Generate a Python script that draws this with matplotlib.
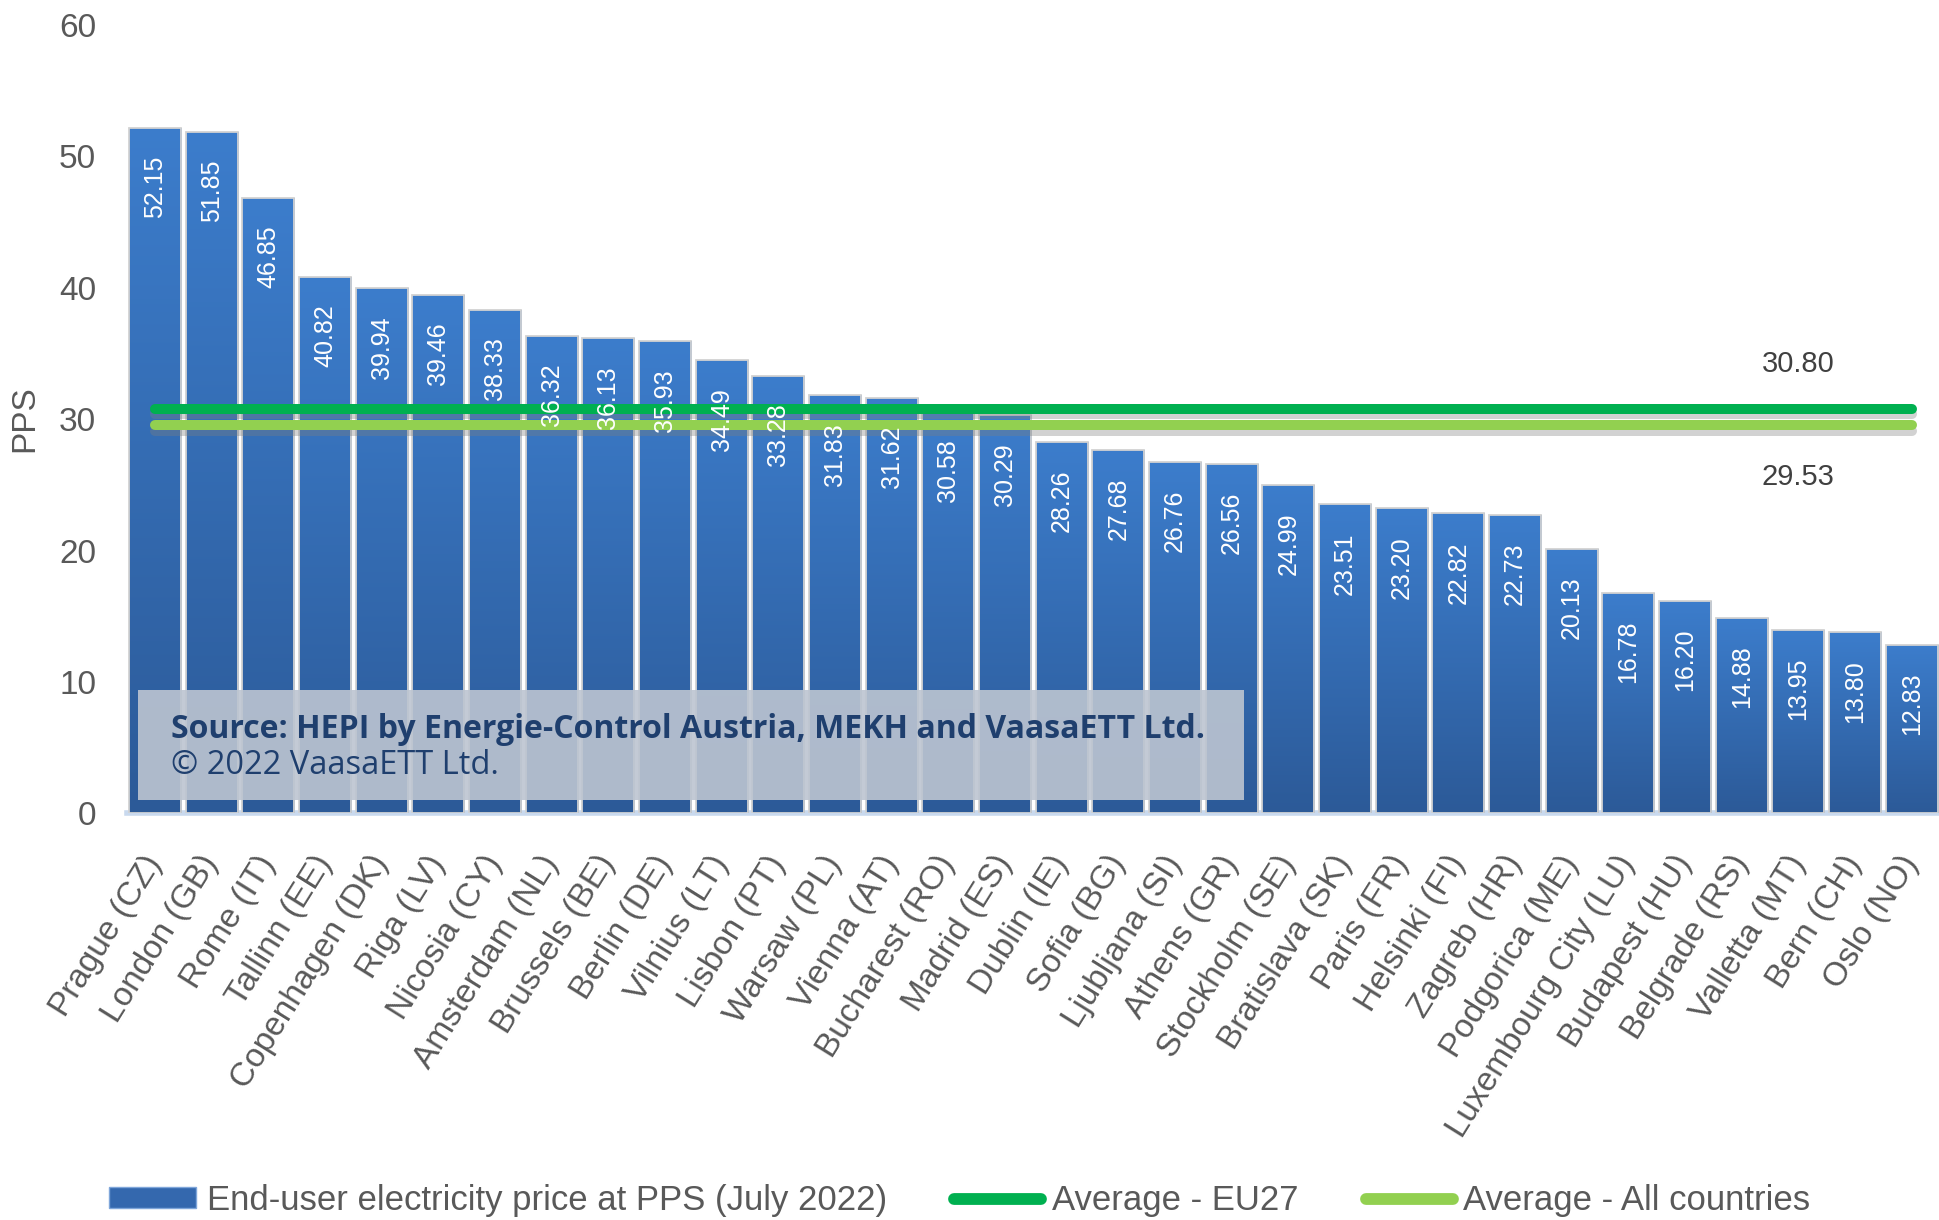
import numpy as np
import matplotlib
matplotlib.use("Agg")
import matplotlib.pyplot as plt
import matplotlib.patheffects as pe
from matplotlib.colors import LinearSegmentedColormap
from matplotlib.patches import Patch, Rectangle
from matplotlib.lines import Line2D

plt.rcParams['font.family'] = ['Liberation Sans', 'DejaVu Sans']

# data (PPS, July 2022)
cities = [
    "Prague (CZ)", "London (GB)", "Rome (IT)", "Tallinn (EE)", "Copenhagen (DK)",
    "Riga (LV)", "Nicosia (CY)", "Amsterdam (NL)", "Brussels (BE)", "Berlin (DE)",
    "Vilnius (LT)", "Lisbon (PT)", "Warsaw (PL)", "Vienna (AT)", "Bucharest (RO)",
    "Madrid (ES)", "Dublin (IE)", "Sofia (BG)", "Ljubljana (SI)", "Athens (GR)",
    "Stockholm (SE)", "Bratislava (SK)", "Paris (FR)", "Helsinki (FI)", "Zagreb (HR)",
    "Podgorica (ME)", "Luxembourg City (LU)", "Budapest (HU)", "Belgrade (RS)",
    "Valletta (MT)", "Bern (CH)", "Oslo (NO)",
]
prices = [
    52.15, 51.85, 46.85, 40.82, 39.94, 39.46, 38.33, 36.32, 36.13, 35.93,
    34.49, 33.28, 31.83, 31.62, 30.58, 30.29, 28.26, 27.68, 26.76, 26.56,
    24.99, 23.51, 23.20, 22.82, 22.73, 20.13, 16.78, 16.20, 14.88, 13.95,
    13.80, 12.83,
]
avg_eu27 = 30.80
avg_all = 29.53
label_idx = 29  # where the average values are written
yticks = [0, 10, 20, 30, 40, 50, 60]

GREY = '#595959'
EU_GREEN = '#00B050'
ALL_GREEN = '#92D050'

fig = plt.figure(figsize=(19.39, 12.2), dpi=100)
ax = fig.add_axes([0.0653, 0.3332, 0.9352, 0.6466])

x = np.arange(len(cities))
bars = ax.bar(x, prices, width=0.92, color='none', edgecolor='#D2D2D2',
              linewidth=1.3, zorder=2)

# vertical gradient in each bar, light at top, dark at the base
cmap = LinearSegmentedColormap.from_list('bar', ['#2C5A98', '#3C7DCC'])
grad = np.linspace(0, 1, 256).reshape(-1, 1)
for b in bars:
    x0, w, h = b.get_x(), b.get_width(), b.get_height()
    im = ax.imshow(grad, extent=(x0, x0 + w, 0, h), origin='lower', cmap=cmap,
                   aspect='auto', interpolation='bilinear', zorder=1.9)
    im.set_clip_path(b)

shadow = [pe.SimpleLineShadow(offset=(0, -4), shadow_color='#7F7F7F', alpha=0.35),
          pe.Normal()]
ax.plot([x[0], x[-1]], [avg_eu27, avg_eu27], color=EU_GREEN, lw=7.2,
        solid_capstyle='round', zorder=3, path_effects=shadow)
ax.plot([x[0], x[-1]], [avg_all, avg_all], color=ALL_GREEN, lw=7.2,
        solid_capstyle='round', zorder=3, path_effects=shadow)

for i, v in enumerate(prices):
    ax.annotate(f'{v:.2f}', xy=(i, v), xytext=(0, -20), textcoords='offset points',
                rotation=90, ha='center', va='top', color='white', fontsize=18,
                zorder=6)

ax.annotate(f'{avg_eu27:.2f}', xy=(label_idx, avg_eu27), xytext=(0, 32),
            textcoords='offset points', ha='center', va='center',
            color='#404040', fontsize=21)
ax.annotate(f'{avg_all:.2f}', xy=(label_idx, avg_all), xytext=(0, -37),
            textcoords='offset points', ha='center', va='center',
            color='#404040', fontsize=21)

# source box
ax.add_patch(Rectangle((0.0063, 0.017), 0.6097, 0.1396, transform=ax.transAxes,
                       facecolor='#BDC5D1', edgecolor='none', alpha=0.9, zorder=4))
ax.text(0.0245, 0.107, 'Source: HEPI by Energie-Control Austria, MEKH and VaasaETT Ltd.',
        transform=ax.transAxes, ha='left', va='center', fontsize=23,
        fontweight='bold', color='#1F3F6E', family=['Open Sans', 'DejaVu Sans'],
        zorder=5)
ax.text(0.0245, 0.0605, '\u00a9 2022 VaasaETT Ltd.',
        transform=ax.transAxes, ha='left', va='center', fontsize=23.5,
        color='#1F3F6E', family=['Open Sans', 'DejaVu Sans'], zorder=5)

ax.set_xlim(-0.5, len(cities) - 0.5)
ax.set_ylim(0, 60)
ax.set_yticks(yticks)
ax.set_xticks(x)
ax.set_xticklabels(cities, rotation=58, ha='right', va='center',
                   rotation_mode='anchor')
ax.tick_params(axis='x', length=0, pad=32, labelsize=24, labelcolor=GREY)
ax.tick_params(axis='y', length=0, pad=22, labelsize=24, labelcolor=GREY)
ax.set_ylabel('PPS', fontsize=24, color=GREY, va='center')
ax.yaxis.set_label_coords(-0.056, 0.5)

for s in ['left', 'top', 'right']:
    ax.spines[s].set_visible(False)
ax.spines['bottom'].set_color('#C9D9EE')
ax.spines['bottom'].set_linewidth(4)
ax.spines['bottom'].set_zorder(1)

handles = [
    Patch(facecolor='#3468AE', edgecolor='#7FA6DA', linewidth=1),
    Line2D([], [], color=EU_GREEN, lw=8.5, solid_capstyle='round'),
    Line2D([], [], color=ALL_GREEN, lw=8.5, solid_capstyle='round'),
]
labels = ['End-user electricity price at PPS (July 2022)',
          'Average - EU27', 'Average - All countries']
fig.legend(handles, labels, loc='center', bbox_to_anchor=(0.495, 0.016), ncol=3,
           frameon=False, fontsize=25, labelcolor=GREY, handlelength=2.5,
           handleheight=0.55, handletextpad=0.3, columnspacing=1.95)

fig.savefig('out.png', dpi=100, facecolor='white')
